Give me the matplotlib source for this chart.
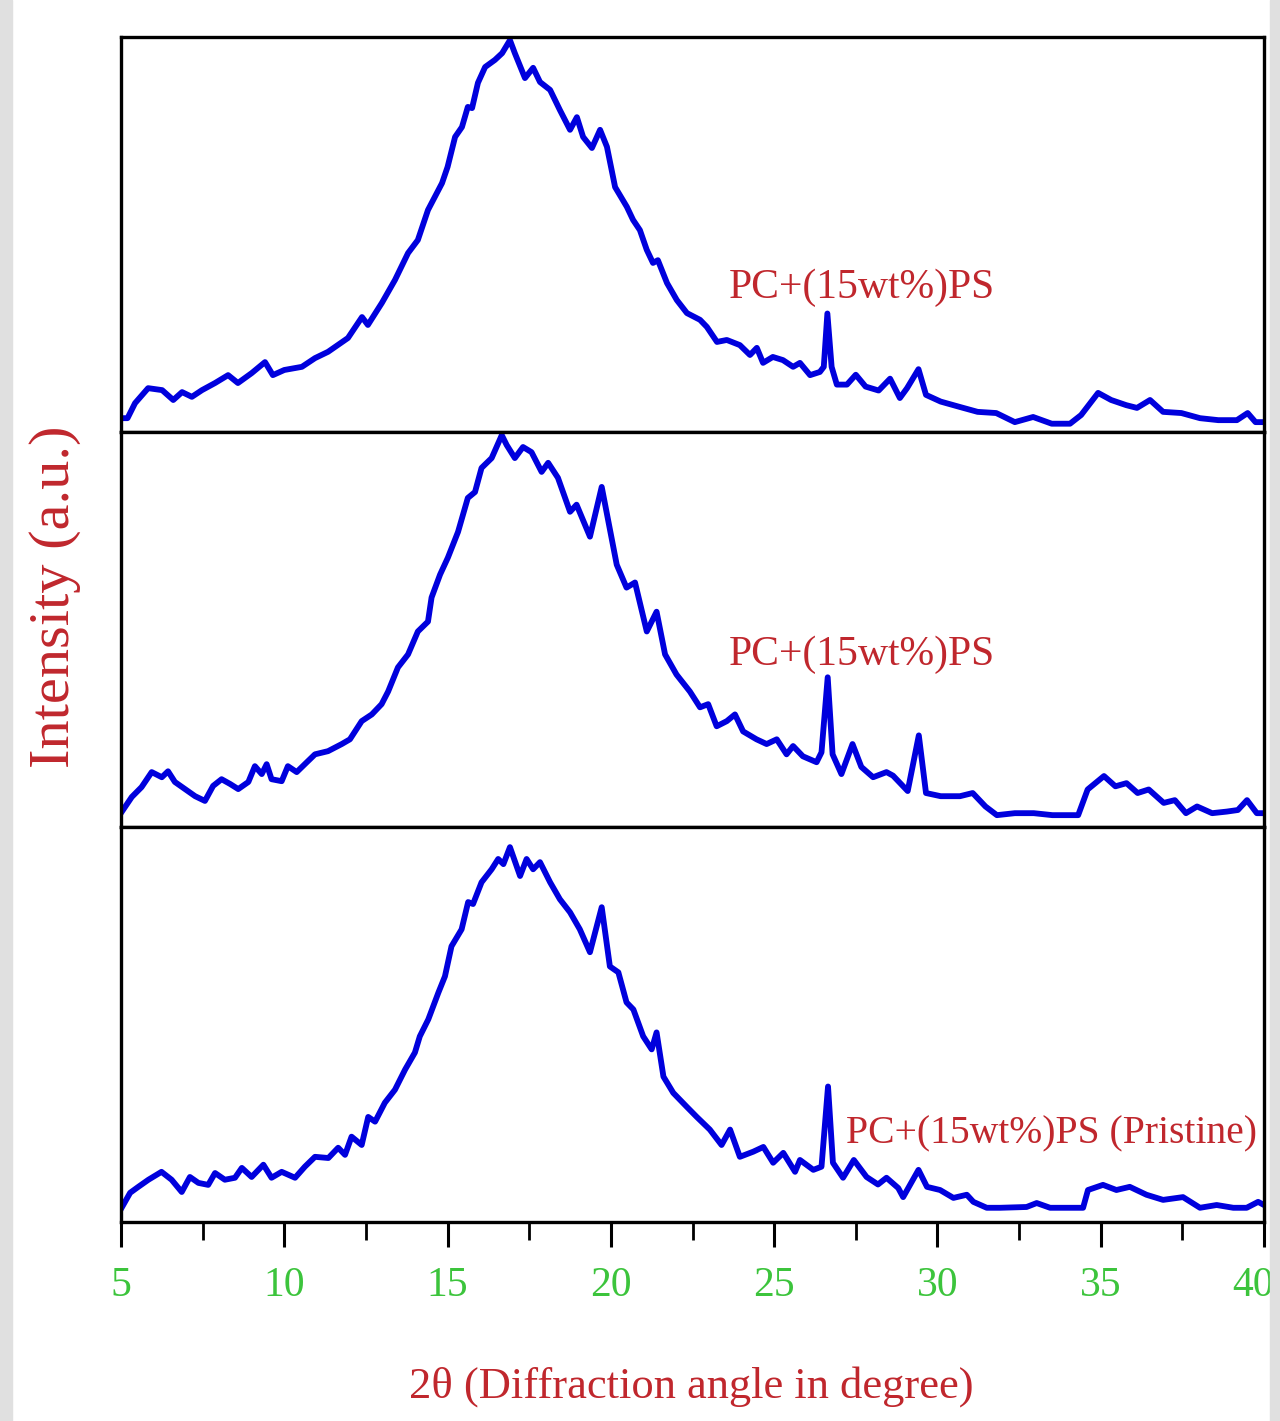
import matplotlib
matplotlib.use("Agg")
import matplotlib.pyplot as plt
import matplotlib.transforms as mtransforms
from matplotlib.patches import Rectangle

# XRD patterns, intensity (0-100 per panel)
x_top = [5.03, 5.2, 5.43, 5.83, 6.26, 6.6, 6.87, 7.17, 7.48, 7.88, 8.28, 8.58, 9.0, 9.41, 9.65,
         10.0, 10.54, 10.94, 11.34, 11.95, 12.38, 12.56, 12.99, 13.39, 13.79, 14.09, 14.4, 14.83,
         15.0, 15.23, 15.44, 15.62, 15.75, 15.93, 16.15, 16.45, 16.67, 16.91, 17.06, 17.37, 17.62,
         17.83, 18.14, 18.44, 18.75, 18.96, 19.15, 19.42, 19.67, 19.88, 20.13, 20.49, 20.68, 20.89,
         21.1, 21.29, 21.44, 21.72, 22.02, 22.33, 22.73, 22.94, 23.25, 23.55, 23.95, 24.26, 24.47,
         24.66, 24.96, 25.27, 25.58, 25.79, 26.1, 26.4, 26.52, 26.63, 26.76, 26.92, 27.23, 27.5,
         27.8, 28.2, 28.55, 28.85, 29.07, 29.42, 29.65, 30.1, 30.66, 31.23, 31.8, 32.37, 32.93,
         33.5, 34.06, 34.4, 34.92, 35.32, 35.78, 36.11, 36.51, 36.91, 37.47, 38.04, 38.6, 39.17,
         39.5, 39.74, 40.0]
y_top = [3.5, 3.5, 7.3, 11.1, 10.6, 8.1, 10.1, 8.9, 10.6, 12.4, 14.4, 12.4, 14.9, 17.7, 14.4,
         15.7, 16.5, 18.7, 20.3, 23.8, 29.1, 27.1, 32.7, 38.5, 45.3, 48.6, 56.2, 63.0,
         67.1, 74.7, 77.2, 82.3, 82.0, 88.4, 92.4, 94.2, 95.9, 99.2, 95.9, 89.6, 92.2,
         88.6, 86.6, 81.5, 76.5, 79.7, 74.7, 71.9, 76.5, 72.2, 62.0, 57.0, 53.7, 51.1,
         46.1, 42.8, 43.5, 37.7, 33.4, 30.1, 28.4, 26.6, 22.8, 23.3, 22.0, 19.5, 21.3,
         17.5, 19.0, 18.2, 16.5, 17.5, 14.4, 15.2, 16.5, 30.0, 16.5, 12.0, 12.0, 14.5,
         11.5, 10.5, 13.5, 8.6, 11.1, 15.9, 9.4, 7.7, 6.4, 5.1, 4.8, 2.5, 3.8,
         2.1, 2.1, 4.3, 9.9, 8.1, 6.8, 6.1, 8.1, 5.1, 4.8, 3.5, 3.0, 3.0,
         4.8, 2.5, 2.5]

x_mid = [5.02, 5.33, 5.63, 5.94, 6.25, 6.44, 6.65, 6.96, 7.27, 7.57, 7.82, 8.08, 8.34, 8.59, 8.9,
         9.1, 9.31, 9.46, 9.61, 9.92, 10.11, 10.38, 10.69, 10.94, 11.34, 11.76, 12.01, 12.37,
         12.68, 12.98, 13.18, 13.48, 13.79, 14.09, 14.4, 14.51, 14.77, 15.01, 15.32, 15.62, 15.84,
         16.04, 16.35, 16.66, 16.81, 17.06, 17.31, 17.57, 17.88, 18.08, 18.38, 18.75, 18.95, 19.36,
         19.72, 20.18, 20.48, 20.74, 21.1, 21.4, 21.66, 22.01, 22.42, 22.73, 22.98, 23.24, 23.55,
         23.8, 24.05, 24.46, 24.77, 25.08, 25.38, 25.58, 25.88, 26.3, 26.45, 26.64, 26.79, 27.06,
         27.4, 27.67, 28.03, 28.44, 28.64, 28.86, 29.09, 29.43, 29.65, 30.1, 30.69, 31.08, 31.47,
         31.82, 32.37, 32.95, 33.52, 34.31, 34.6, 35.1, 35.45, 35.79, 36.13, 36.47, 36.93, 37.27,
         37.61, 37.95, 38.41, 38.86, 39.2, 39.48, 39.78, 40.0]
y_mid = [3.8, 7.6, 10.1, 13.9, 12.6, 14.1, 11.4, 9.6, 7.8, 6.6, 10.4, 12.1, 10.9, 9.6, 11.4,
         15.4, 13.4, 15.9, 12.1, 11.6, 15.4, 13.9, 16.4, 18.4, 19.2, 21.0, 22.2, 26.8,
         28.5, 31.1, 34.3, 40.4, 43.7, 49.5, 52.0, 58.1, 63.9, 68.2, 74.7, 83.3, 84.8,
         90.9, 93.4, 99.2, 96.7, 93.4, 96.2, 94.9, 89.9, 92.2, 88.4, 79.8, 81.6, 73.5,
         86.1, 66.4, 60.6, 61.9, 49.5, 54.5, 43.7, 38.6, 34.3, 30.3, 31.1, 25.5, 26.8,
         28.5, 24.2, 22.2, 21.0, 22.2, 18.4, 20.5, 17.9, 16.4, 18.9, 37.9, 18.4, 13.4,
         21.0, 15.2, 12.6, 13.9, 13.0, 11.1, 9.1, 23.2, 8.6, 7.8, 7.8, 8.6, 5.2,
         3.0, 3.5, 3.5, 3.0, 3.0, 9.5, 12.9, 10.3, 11.1, 8.6, 9.5, 6.1, 6.8,
         3.5, 5.2, 3.5, 3.9, 4.3, 6.8, 3.5, 3.5]

x_bot = [5.02, 5.28, 5.53, 5.84, 6.24, 6.55, 6.86, 7.11, 7.37, 7.67, 7.88, 8.18, 8.49, 8.7, 9.0,
         9.36, 9.61, 9.92, 10.33, 10.63, 10.94, 11.35, 11.65, 11.86, 12.06, 12.37, 12.57, 12.78,
         13.08, 13.39, 13.7, 14.0, 14.15, 14.41, 14.72, 14.92, 15.12, 15.43, 15.63, 15.78, 16.04,
         16.35, 16.55, 16.71, 16.91, 17.22, 17.42, 17.62, 17.83, 18.14, 18.44, 18.75, 19.05, 19.36,
         19.72, 19.97, 20.23, 20.48, 20.69, 20.99, 21.25, 21.4, 21.61, 21.91, 22.32, 22.63, 23.03,
         23.39, 23.65, 23.95, 24.36, 24.67, 24.97, 25.28, 25.64, 25.79, 26.2, 26.45, 26.65, 26.8,
         27.11, 27.44, 27.83, 28.18, 28.44, 28.8, 28.95, 29.42, 29.68, 30.08, 30.49, 30.9, 31.1,
         31.51, 31.92, 32.73, 33.04, 33.45, 34.46, 34.61, 35.07, 35.48, 35.89, 36.4, 36.91, 37.52,
         38.04, 38.55, 39.06, 39.47, 39.82, 40.0]
y_bot = [3.6, 7.4, 8.9, 10.7, 12.7, 10.7, 7.6, 11.4, 9.9, 9.4, 12.4, 10.7, 11.2, 13.7, 11.4,
         14.5, 11.2, 12.7, 11.2, 14.0, 16.5, 16.2, 18.8, 17.0, 21.6, 19.5, 26.6, 25.4,
         30.2, 33.5, 38.6, 42.9, 47.0, 51.3, 58.1, 62.2, 69.8, 74.1, 81.0, 80.5, 86.0,
         89.3, 91.9, 90.6, 94.9, 87.6, 91.9, 89.3, 91.1, 86.0, 81.7, 78.4, 74.1, 68.3,
         79.7, 64.7, 63.2, 55.6, 53.8, 47.0, 43.7, 48.0, 36.8, 32.7, 29.2, 26.6, 23.4,
         19.5, 23.4, 16.5, 17.8, 19.0, 15.0, 17.5, 12.7, 15.7, 13.2, 14.0, 34.3, 15.0,
         11.2, 15.7, 11.4, 9.5, 11.2, 8.6, 6.3, 13.2, 8.9, 8.1, 6.1, 6.9, 5.1,
         3.6, 3.6, 3.8, 4.8, 3.6, 3.6, 8.1, 9.4, 8.1, 8.9, 6.9, 5.6, 6.3,
         3.6, 4.3, 3.6, 3.6, 5.1, 4.3]

labels = ["PC+(15wt%)PS", "PC+(15wt%)PS", "PC+(15wt%)PS (Pristine)"]
label_pos = [(23.6, 34), (23.6, 41), (27.2, 20)]
label_size = [30, 30, 28.5]
xticks = [5, 10, 15, 20, 25, 30, 35, 40]

serif = ["Liberation Serif", "DejaVu Serif"]
line_col = "#0000dd"
red = "#c0272d"
green = "#3cc43c"

fig = plt.figure(figsize=(12.8, 14.21), dpi=100)
fig.patches.append(Rectangle((0, 0), 12 / 1280, 1, transform=fig.transFigure,
                             color="#e0e0e0", zorder=0))
fig.patches.append(Rectangle((1270 / 1280, 0), 10 / 1280, 1, transform=fig.transFigure,
                             color="#e0e0e0", zorder=0))

left = 121 / 1280
width = (1264 - 121) / 1280
ph = 395 / 1421
bottom0 = 1 - 1222 / 1421

data = [(x_top, y_top), (x_mid, y_mid), (x_bot, y_bot)]
for i, (xs, ys) in enumerate(data):
    b = bottom0 + (2 - i) * ph
    ax = fig.add_axes([left, b, width, ph])
    ax.plot(xs, ys, color=line_col, lw=4.2, solid_joinstyle="round")
    ax.set_xlim(5, 40)
    ax.set_ylim(0, 100)
    ax.set_yticks([])
    for s in ax.spines.values():
        s.set_linewidth(2.4)
        s.set_color("black")
    tx, ty = label_pos[i]
    ax.text(tx, ty, labels[i], color=red, fontsize=label_size[i], family=serif)
    if i < 2:
        ax.set_xticks([])
    else:
        ax.set_xticks(xticks)
        ax.set_xticklabels([str(t) for t in xticks])
        ax.set_xticks([7.5, 12.5, 17.5, 22.5, 27.5, 32.5, 37.5], minor=True)
        ax.tick_params(axis="x", which="major", direction="out", length=18, width=2.2,
                       pad=14, labelsize=30, labelcolor=green)
        ax.tick_params(axis="x", which="minor", direction="out", length=13, width=2.0)
        for lab in ax.get_xticklabels():
            lab.set_family(serif)
        # last label sits at the figure edge; nudge it in so it is not cut
        last = ax.get_xticklabels()[-1]
        last.set_transform(last.get_transform() +
                           mtransforms.ScaledTranslation(-8 / 72, 0, fig.dpi_scale_trans))

fig.text(0.043, 0.58, "Intensity (a.u.)", rotation=90, ha="center", va="center",
         color=red, fontsize=42, family=serif)
fig.text(0.54, 0.024, "2θ (Diffraction angle in degree)", ha="center", va="center",
         color=red, fontsize=32, family=serif)

fig.savefig("out.png", dpi=100)
